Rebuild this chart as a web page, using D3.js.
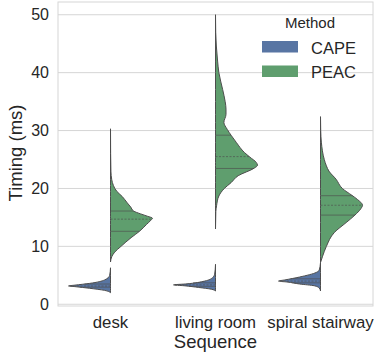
<!DOCTYPE html>
<html>
<head>
<meta charset="utf-8">
<script src="https://cdn.jsdelivr.net/npm/d3@7"></script>
<style>
  body { margin: 0; background: #fff; }
  svg text { font-family: "Liberation Sans", Arial, sans-serif; fill: #262626; }
</style>
</head>
<body>
<div id="chart"></div>
<script>
// categories / methods
var sequences = ["desk", "living room", "spiral stairway"];
var methods = ["CAPE", "PEAC"];
var yTicks = [0, 10, 20, 30, 40, 50];

// violin outlines: [timing ms, relative half width]
var capeDesk = [[6.3,0],[5.0,0.02],[4.2,0.14],[3.6,0.5],[3.3,0.85],[3.16,1],[3.05,0.85],[2.76,0.5],[2.4,0.14],[2.0,0]];
var capeLiving = [[6.9,0],[5.2,0.02],[4.6,0.07],[4.0,0.26],[3.5,0.72],[3.35,1],[3.2,0.75],[2.9,0.4],[2.6,0.1],[2.3,0]];
var capeSpiral = [[7.2,0],[5.9,0.03],[5.5,0.1],[4.7,0.5],[4.2,0.85],[4.0,1],[3.85,0.8],[3.5,0.5],[3.2,0.15],[2.8,0.03],[2.3,0]];

var peacDesk = [[30.3,0],[26,0.003],[23,0.01],[21.5,0.03],[20.5,0.07],[19.5,0.15],[18.6,0.28],[17.5,0.4],[16.8,0.48],
  [16.1,0.55],[15.6,0.72],[15.2,0.88],[14.85,1],[14.5,0.96],[13.8,0.86],[12.6,0.69],[11.5,0.49],[10.0,0.25],[9.0,0.1],[8.3,0.035],[7.3,0]];
var peacLiving = [[50,0],[47,0.005],[44.6,0.02],[42,0.05],[40,0.08],[37.1,0.17],[35,0.23],[33.7,0.25],[32.8,0.25],[31.4,0.2],
  [30.2,0.28],[29.2,0.37],[27.9,0.5],[26.2,0.69],[25.4,0.82],[24.5,0.97],[24.0,1],[23.5,0.92],[22.2,0.54],[21.0,0.37],
  [20.0,0.21],[18.7,0.08],[17.0,0.025],[16.0,0.008],[13.0,0]];
var peacSpiral = [[32.4,0],[30,0.005],[28,0.02],[25,0.09],[23.9,0.14],[23,0.2],[21.6,0.37],[20,0.52],[18.8,0.75],[18.1,0.88],
  [17.1,1],[16.5,0.96],[15.4,0.82],[14.1,0.61],[12.4,0.33],[10,0.14],[8.3,0.05],[7.2,0]];

// quartiles (25%, 50%, 75%)
var capeQuartiles = [[2.95, 3.15, 3.5], [3.1, 3.35, 3.7], [3.7, 4.0, 4.4]];
var peacQuartiles = [[12.6, 14.7, 16.1], [23.45, 25.5, 29.2], [15.4, 17.1, 18.75]];

var colors = { CAPE: "#5875a3", PEAC: "#5f9e6e" };
var edge = "#4d4d4d";

var W = 375, H = 356;
var svg = d3.select("#chart").append("svg")
  .attr("width", W)
  .attr("height", H);

var x = d3.scaleBand().domain(sequences).range([58, 373]);
var y = d3.scaleLinear().domain([-0.3, 52.2]).range([306, 2]);
var w = d3.scaleLinear().domain([0, 1]).range([0, x.bandwidth() * 0.4]);

// grid
svg.append("g").selectAll("line")
  .data(yTicks)
  .enter().append("line")
  .attr("x1", 58).attr("x2", 373)
  .attr("y1", function(d) { return y(d); })
  .attr("y2", function(d) { return y(d); })
  .attr("stroke", "#d6d6d6")
  .attr("stroke-width", 1);

// frame
svg.append("rect")
  .attr("x", 58).attr("y", 2)
  .attr("width", 315).attr("height", 304)
  .attr("fill", "none")
  .attr("stroke", "#d6d6d6");

// y axis
var yAxis = d3.axisLeft(y).tickValues(yTicks).tickSize(0).tickPadding(9);
var gy = svg.append("g").attr("transform", "translate(58,0)").call(yAxis);
gy.select(".domain").remove();
gy.selectAll("text").style("font-size", "16px").attr("fill", "#262626");

// x axis
var xAxis = d3.axisBottom(x).tickSize(0).tickPadding(10);
var gx = svg.append("g").attr("transform", "translate(0,306)").call(xAxis);
gx.select(".domain").remove();
gx.selectAll("text").style("font-size", "16.8px").attr("fill", "#262626");

svg.append("text")
  .attr("x", 215.5).attr("y", 348)
  .attr("text-anchor", "middle")
  .style("font-size", "18.5px")
  .text("Sequence");

svg.append("text")
  .attr("transform", "translate(22,153) rotate(-90)")
  .attr("text-anchor", "middle")
  .style("font-size", "18.5px")
  .text("Timing (ms)");

// violins
var halves = [
  { seq: "desk", method: "CAPE", prof: capeDesk, q: capeQuartiles[0] },
  { seq: "living room", method: "CAPE", prof: capeLiving, q: capeQuartiles[1] },
  { seq: "spiral stairway", method: "CAPE", prof: capeSpiral, q: capeQuartiles[2] },
  { seq: "desk", method: "PEAC", prof: peacDesk, q: peacQuartiles[0] },
  { seq: "living room", method: "PEAC", prof: peacLiving, q: peacQuartiles[1] },
  { seq: "spiral stairway", method: "PEAC", prof: peacSpiral, q: peacQuartiles[2] }
];

function widthAt(prof, v) {
  for (var i = 0; i < prof.length - 1; i++) {
    var a = prof[i], b = prof[i + 1];
    if (v <= a[0] && v >= b[0]) {
      var t = (a[0] - v) / (a[0] - b[0]);
      return a[1] + t * (b[1] - a[1]);
    }
  }
  return 0;
}

halves.forEach(function(h) {
  var cx = x(h.seq) + x.bandwidth() / 2;
  var dir = h.method == "CAPE" ? -1 : 1;
  var area = d3.area()
    .curve(d3.curveMonotoneY)
    .y(function(d) { return y(d[0]); })
    .x0(cx)
    .x1(function(d) { return cx + dir * w(d[1]); });

  svg.append("path")
    .datum(h.prof)
    .attr("d", area)
    .attr("fill", colors[h.method])
    .attr("stroke", edge)
    .attr("stroke-width", 1)
    .attr("stroke-linejoin", "round");

  h.q.forEach(function(v, i) {
    svg.append("line")
      .attr("x1", cx)
      .attr("x2", cx + dir * w(widthAt(h.prof, v)))
      .attr("y1", y(v)).attr("y2", y(v))
      .attr("stroke", edge)
      .attr("stroke-width", 0.8)
      .attr("stroke-opacity", 0.8)
      .attr("stroke-dasharray", i == 1 ? "2,1.5" : null);
  });
});

// legend
var leg = svg.append("g");
leg.append("text")
  .attr("x", 310).attr("y", 28)
  .attr("text-anchor", "middle")
  .style("font-size", "15px")
  .text("Method");

methods.forEach(function(m, i) {
  leg.append("rect")
    .attr("x", 262).attr("y", 41 + i * 24.5)
    .attr("width", 36).attr("height", 11.5)
    .attr("fill", colors[m]);
  leg.append("text")
    .attr("x", 311).attr("y", 53.5 + i * 24.5)
    .style("font-size", "16.5px")
    .text(m);
});
</script>
</body>
</html>
